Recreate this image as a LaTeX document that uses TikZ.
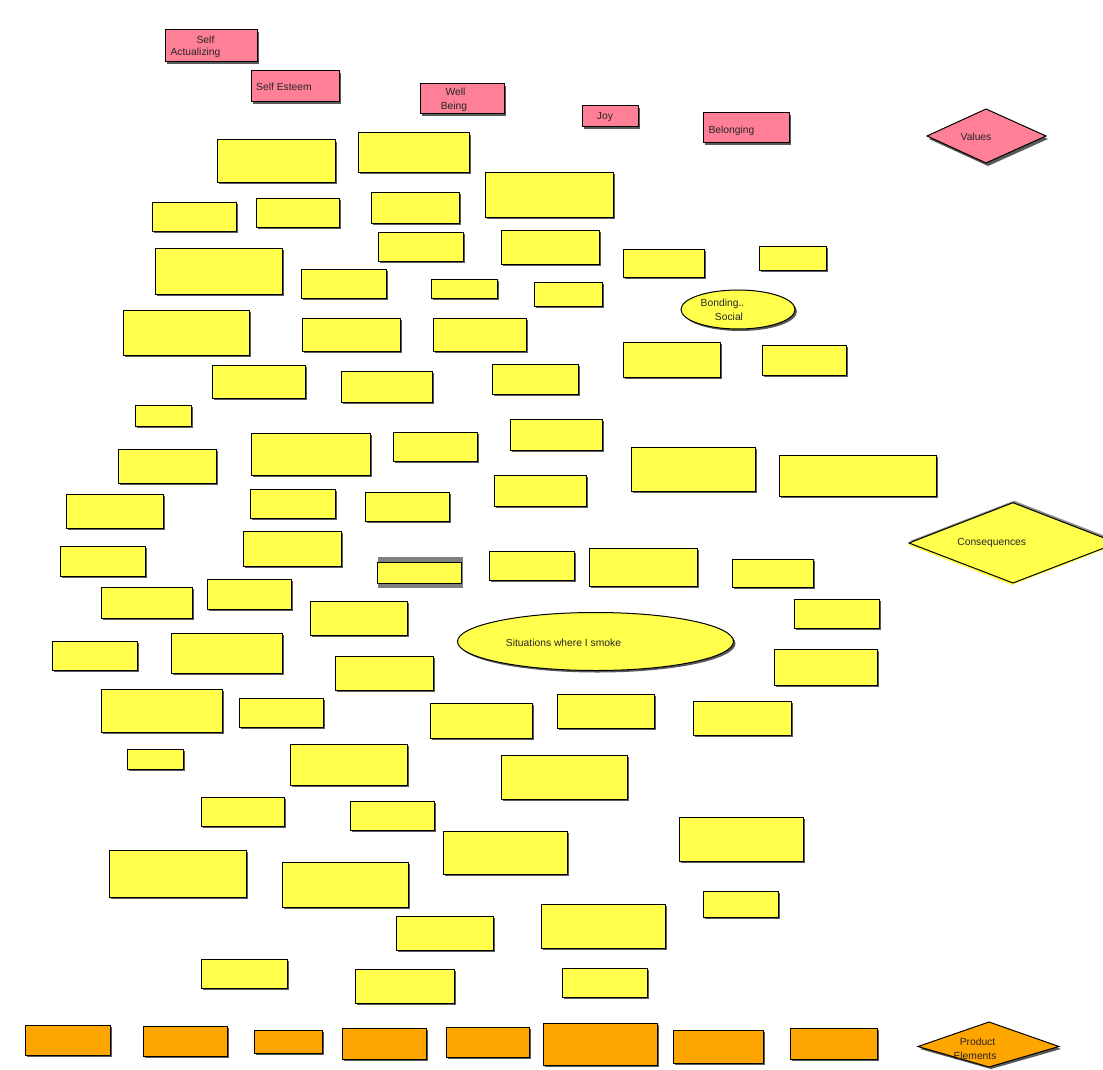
\documentclass[tikz,border=0pt]{standalone}
\usepackage{fontspec}
\setmainfont{Liberation Sans}
\usetikzlibrary{shapes.geometric,shadows}
\definecolor{pnk}{HTML}{FF7F96}
\definecolor{ylw}{HTML}{FFFF4C}
\definecolor{org}{HTML}{FFA500}
\definecolor{shd}{HTML}{5A5A5A}
\newcommand\bxnode[6]{\node[#1, minimum width={(#4-#2)*1pt}, minimum height={(#5-#3)*1pt}] (#6) at ({(#2+#4)/2},{(#3+#5)/2}) {};}
\tikzset{
  box/.style={draw=black, line width=1pt, inner sep=0pt, outer sep=0pt,
    drop shadow={shadow xshift=2pt, shadow yshift=-2pt, fill=shd, opacity=1}},
  yb/.style={box, fill=ylw},
  pb/.style={box, fill=pnk},
  ob/.style={box, fill=org},
  txt/.style={inner sep=0pt, text=black!85, font=\fontsize{10.3}{12}\selectfont},
}
\begin{document}
\begin{tikzpicture}[x=1pt,y=-1pt]
\useasboundingbox (0,0) rectangle (1103,1070);
% pink value boxes
\foreach \ua/\ub/\uc/\ud [count=\i] in {165/30/257/62, 251/71/339/102, 420/84/504/114, 582/106/638/127, 703/113/789/143}
  {\bxnode{pb}{\ua}{\ub}{\uc}{\ud}{p\i}}
% yellow consequence boxes
\foreach \ua/\ub/\uc/\ud [count=\i] in {
217/140/335/182, 358/133/469/172, 485/172/613/217, 152/202/236/231, 256/198/339/227,
371/192/459/223, 155/248/282/294, 378/232/463/261, 501/230/599/264, 623/249/704/277,
759/246/826/270, 301/269/386/298, 431/279/497/298, 534/282/602/306, 123/310/249/355,
302/318/400/351, 433/318/526/351, 623/342/720/377, 762/345/846/375, 212/365/305/398,
341/371/432/402, 492/364/578/394, 135/405/191/426, 251/433/370/475, 393/432/477/461,
510/419/602/450, 118/449/216/483, 631/447/755/491, 779/455/936/496, 66/494/163/528,
250/489/335/518, 365/492/449/521, 494/475/586/506, 60/546/145/576, 243/531/341/566,
489/551/574/580, 589/548/697/586, 732/559/813/587, 101/587/192/618, 207/579/291/609,
310/601/407/635, 794/599/879/628, 52/641/137/670, 171/633/282/673, 335/656/433/690,
774/649/877/685, 101/689/222/732, 239/698/323/727, 430/703/532/738, 557/694/654/728,
693/701/791/735, 127/749/183/769, 290/744/407/785, 501/755/627/799, 201/797/284/826,
350/801/434/830, 679/817/803/861, 443/831/567/874, 109/850/246/897, 282/862/408/907,
703/891/778/917, 396/916/493/950, 541/904/665/948, 201/959/287/988, 355/969/454/1003,
562/968/647/997}
  {\bxnode{yb}{\ua}{\ub}{\uc}{\ud}{y\i}}
% box with large grey backing
\fill[black!50] (378,557) rectangle (463,588);
\node[draw=black, line width=1pt, fill=ylw, inner sep=0pt, minimum width=84pt, minimum height=21pt] (yg) at (419,573) {};
% orange product boxes
\foreach \ua/\ub/\uc/\ud [count=\i] in {25/1025/110/1055, 143/1026/227/1056, 254/1030/322/1053, 342/1028/426/1059, 446/1027/529/1057, 543/1023/657/1065, 673/1030/763/1063, 790/1028/877/1059}
  {\bxnode{ob}{\ua}{\ub}{\uc}{\ud}{o\i}}
% ellipses
\node[ellipse, draw=black, line width=1pt, fill=ylw, inner sep=0pt, minimum width=114pt, minimum height=39pt,
  drop shadow={shadow xshift=2pt, shadow yshift=-2pt, fill=shd, opacity=1}] (bond) at (738,309.5) {};
\node[ellipse, draw=black, line width=1pt, fill=ylw, inner sep=0pt, minimum width=276pt, minimum height=58pt,
  drop shadow={shadow xshift=2pt, shadow yshift=-2pt, fill=shd, opacity=1}] (sit) at (595.5,641.5) {};
% diamonds
\fill[shd] (929,139) -- (988,112) -- (1048,139) -- (988,166) -- cycle;
\filldraw[fill=pnk, draw=black, line width=1pt] (927,136) coordinate (v1) -- (986,109) coordinate (v2) -- (1046,136) coordinate (v3) -- (986,163) coordinate (v4) -- cycle;
\fill[black!45] (910,541) -- (1014,500.7) -- (1118,541) -- (1014,581) -- cycle;
\fill[ylw] (909,543) -- (1013,502.7) -- (1117,543) -- (1013,583) -- cycle;
\fill[ylw] (908,545) -- (1012,504.7) -- (1116,545) -- (1012,585) -- cycle;
\draw[black, line width=1pt] (909,543) coordinate (c1) -- (1013,502.7) coordinate (c2) -- (1117,543) coordinate (c3) -- (1013,583) coordinate (c4) -- cycle;
\fill[shd] (920,1049) -- (991,1024) -- (1061,1049) -- (991,1069) -- cycle;
\filldraw[fill=org, draw=black, line width=1pt] (918,1046.5) coordinate (e1) -- (989,1022) coordinate (e2) -- (1059,1046.5) coordinate (e3) -- (989,1067) coordinate (e4) -- cycle;
% texts
\node[txt] (t1) at (205.5,40) {Self};
\node[txt] (t2) at (195.5,53.3) {Actualizing};
\node[txt] (t3) at (284,87.3) {Self Esteem};
\node[txt] (t4) at (455.5,91.7) {Well};
\node[txt] (t5) at (454,106.7) {Being};
\node[txt] (t6) at (605,117) {Joy};
\node[txt] (t7) at (731.5,130.5) {Belonging};
\node[txt] (t8) at (976,137) {Values};
\node[txt] (t9) at (722.5,304) {Bonding..};
\node[txt] (t10) at (729,316.5) {Social};
\node[txt] (t11) at (991.7,543.3) {Consequences};
\node[txt] (t12) at (563.5,642.7) {Situations where I smoke};
\node[txt] (t13) at (977.5,1041.5) {Product};
\node[txt] (t14) at (975,1055.5) {Elements};
\end{tikzpicture}
\end{document}
